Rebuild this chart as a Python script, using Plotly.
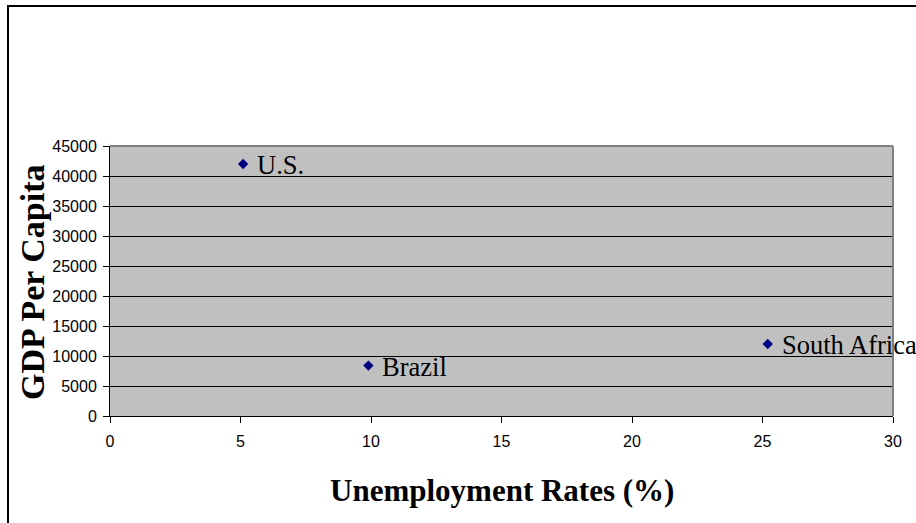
import plotly.graph_objects as go

# Unemployment rate (%) vs GDP per capita by country
countries = ["U.S.", "Brazil", "South Africa"]
unemployment = [5.1, 9.9, 25.2]
gdp_per_capita = [42000, 8400, 12000]

x_ticks = [0, 5, 10, 15, 20, 25, 30]
y_ticks = [0, 5000, 10000, 15000, 20000, 25000, 30000, 35000, 40000, 45000]

W, H = 916, 523
ML, MR, MT, MB = 110, 23, 146, 107
PW, PH = W - ML - MR, H - MT - MB

fig = go.Figure()
fig.add_trace(go.Scatter(
    x=unemployment, y=gdp_per_capita, mode="markers",
    marker=dict(symbol="diamond", size=8, color="#000080"),
    hoverinfo="skip", showlegend=False, cliponaxis=False,
))

# Country names to the right of each point
for name, xv, yv in zip(countries, unemployment, gdp_per_capita):
    fig.add_annotation(
        x=xv, y=yv, text=name, showarrow=False,
        xanchor="left", yanchor="middle", xshift=12, yshift=-1,
        font=dict(family="Liberation Serif", size=26.5, color="black"),
    )

def px_x(p):
    return (p - ML) / PW

def px_y(p):
    return (H - MB - p) / PH

shapes = [
    # outer chart frame (runs off the right and bottom edges)
    dict(type="rect", xref="paper", yref="paper",
         x0=px_x(8), x1=px_x(W + 20), y0=px_y(6), y1=px_y(H + 20),
         line=dict(color="black", width=2), layer="below"),
    # grey top and right plot-area border
    dict(type="line", xref="paper", yref="paper", x0=0, x1=1, y0=1, y1=1,
         line=dict(color="#808080", width=2), layer="above"),
    dict(type="line", xref="paper", yref="paper", x0=1, x1=1, y0=0, y1=1,
         line=dict(color="#808080", width=2), layer="above"),
]

fig.add_annotation(
    xref="paper", yref="paper", x=0.5, y=px_y(490), text="<b>Unemployment Rates (%)</b>",
    showarrow=False, xanchor="center", yanchor="middle",
    font=dict(family="Liberation Serif", size=31, color="black"),
)
fig.add_annotation(
    xref="paper", yref="paper", x=px_x(32), y=px_y(283), text="<b>GDP Per Capita</b>",
    showarrow=False, xanchor="center", yanchor="middle", textangle=-90,
    font=dict(family="Liberation Serif", size=34, color="black"),
)

tick_font = dict(family="Liberation Sans", size=16, color="black")
fig.update_layout(
    width=W, height=H,
    margin=dict(l=ML, r=MR, t=MT, b=MB, pad=0),
    paper_bgcolor="white", plot_bgcolor="#C0C0C0",
    shapes=shapes,
    xaxis=dict(range=[0, 30], tickvals=x_ticks, ticktext=[str(v) for v in x_ticks],
               showgrid=False, zeroline=False, showline=True, linecolor="black", linewidth=1,
               ticks="outside", ticklen=6, tickcolor="black", tickfont=tick_font,
               ticklabelstandoff=5),
    yaxis=dict(range=[0, 45000], tickvals=y_ticks, ticktext=[str(v) for v in y_ticks],
               showgrid=True, gridcolor="black", gridwidth=1, zeroline=False,
               showline=True, linecolor="black", linewidth=1,
               ticks="outside", ticklen=6, tickcolor="black", tickfont=tick_font,
               ticklabelstandoff=3),
)

fig.write_html("out.html")
